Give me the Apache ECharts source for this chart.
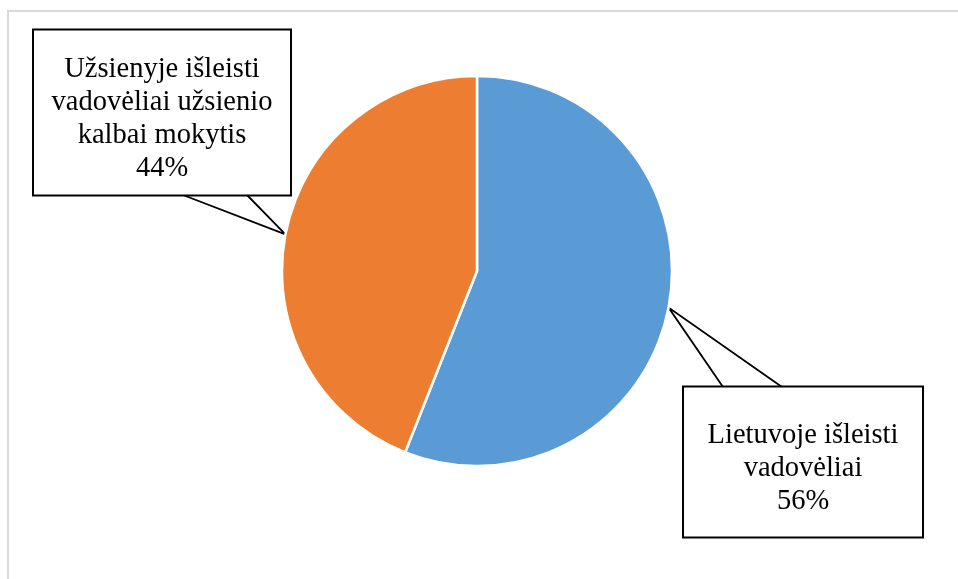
<!DOCTYPE html>
<html>
<head>
<meta charset="utf-8">
<style>
  html, body { margin: 0; padding: 0; background: #fff; }
  #frame { position: absolute; left: 7px; top: 10px; width: 1000px; height: 600px;
           border-top: 2px solid #d9d9d9; border-left: 2px solid #d9d9d9; box-sizing: border-box; }
  #chart { position: absolute; left: 0; top: 0; width: 958px; height: 579px; }
</style>
<script src="https://cdn.jsdelivr.net/npm/echarts@6/dist/echarts.min.js"></script>
</head>
<body>
<div id="frame"></div>
<div id="chart"></div>
<script>
const categories = ['Lietuvoje išleisti vadovėliai', 'Užsienyje išleisti vadovėliai užsienio kalbai mokytis'];
const labelTexts = ['Lietuvoje išleisti\nvadovėliai', 'Užsienyje išleisti\nvadovėliai užsienio\nkalbai mokytis'];
const values = [56, 44];
const colors = ['#5B9BD5', '#ED7D31'];

// callout box placement (center, size, inner padding) and wedge base offsets relative to box left
const boxes = [
  { cx: 803, cy: 462, w: 240, h: 150, pad: [18, 0, 18, 0], baseY: 'top', b1: 40, b2: 99 },
  { cx: 162, cy: 112.5, w: 258, h: 165, pad: [9, 0, 9, 0], baseY: 'bottom', b1: 150, b2: 214 }
];

const chart = echarts.init(document.getElementById('chart'), null, { renderer: 'canvas' });
chart.setOption({
  animation: false,
  series: [{
    type: 'pie',
    center: [477, 271],
    radius: 195,
    startAngle: 90,
    clockwise: true,
    silent: true,
    data: categories.map((c, i) => ({
      name: c, value: values[i],
      itemStyle: { color: colors[i] },
      label: { width: boxes[i].w - 2, padding: boxes[i].pad }
    })),
    itemStyle: { borderColor: '#fff', borderWidth: 2.5 },
    label: {
      show: true,
      position: 'outside',
      formatter: p => '{sp| }\n' + labelTexts[p.dataIndex] + '\n' + p.value + '%',
      fontFamily: '"Liberation Serif", "Times New Roman", serif',
      fontSize: 28.5,
      lineHeight: 33,
      color: '#000',
      align: 'center',
      verticalAlign: 'middle',
      backgroundColor: '#fff',
      borderColor: '#000',
      borderWidth: 2,
      rich: { sp: { fontSize: 8, lineHeight: 14 } }
    },
    labelLine: { show: true, lineStyle: { color: '#000', width: 1.8 } },
    labelLayout: function (p) {
      const b = boxes[p.dataIndex];
      const tip = p.labelLinePoints ? p.labelLinePoints[0] : [0, 0];
      const left = b.cx - b.w / 2;
      const y = b.baseY === 'top' ? b.cy - b.h / 2 : b.cy + b.h / 2;
      return {
        x: b.cx, y: b.cy, align: 'center', verticalAlign: 'middle',
        labelLinePoints: [[left + b.b1, y], tip, [left + b.b2, y]]
      };
    }
  }]
});
</script>
</body>
</html>
